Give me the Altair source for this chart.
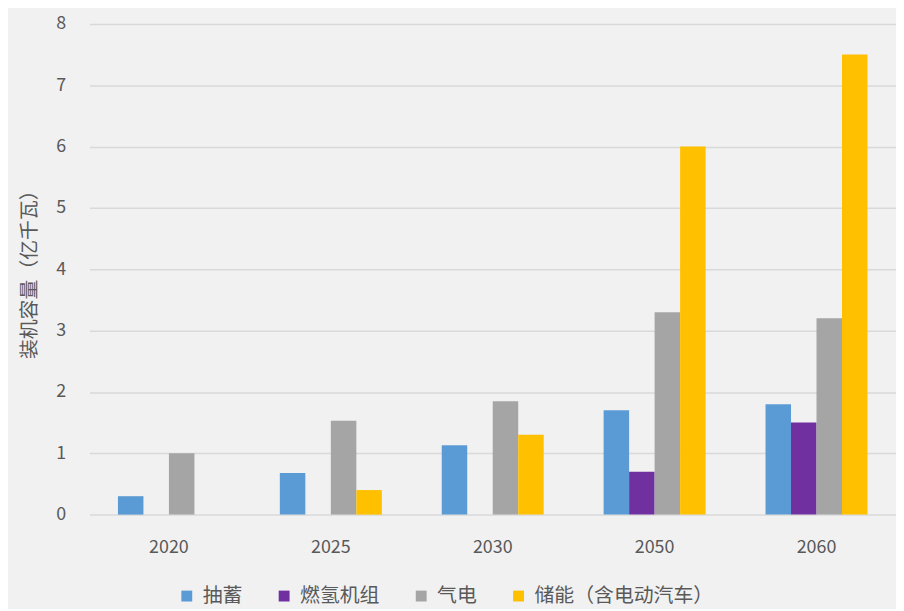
import altair as alt
import pandas as pd

years = ["2020", "2025", "2030", "2050", "2060"]
series = ["抽蓄", "燃氢机组", "气电", "储能（含电动汽车）"]
colors = ["#5B9BD5", "#7030A0", "#A5A5A5", "#FFC000"]
pumped = [0.3, 0.68, 1.13, 1.7, 1.8]
hydrogen = [0.0, 0.0, 0.0, 0.7, 1.5]
gas = [1.0, 1.53, 1.85, 3.3, 3.2]
storage = [0.0, 0.4, 1.3, 6.0, 7.5]

rows = []
for s, vals in zip(series, [pumped, hydrogen, gas, storage]):
    for y, v in zip(years, vals):
        rows.append({"year": y, "series": s, "value": v})
df = pd.DataFrame(rows)

font = "Noto Sans CJK SC"

chart = alt.Chart(df).mark_bar().encode(
    x=alt.X("year:N", sort=years, title=None,
            scale=alt.Scale(paddingInner=0.37, paddingOuter=0.176),
            axis=alt.Axis(labelAngle=0, labelFontSize=18, labelColor="#595959",
                          labelFont=font, ticks=False, domain=False, labelPadding=24)),
    xOffset=alt.XOffset("series:N", sort=series),
    y=alt.Y("value:Q", title="装机容量（亿千瓦）",
            scale=alt.Scale(domain=[0, 8]),
            axis=alt.Axis(values=list(range(0, 9)), labelFontSize=18, labelColor="#595959",
                          labelFont=font, ticks=False, domain=False, labelPadding=24,
                          gridColor="#D9D9D9", gridWidth=1.5,
                          titleFont=font, titleFontSize=20, titleFontWeight="normal",
                          titleColor="#595959", titlePadding=16)),
    color=alt.Color("series:N", sort=series,
                    scale=alt.Scale(domain=series, range=colors),
                    legend=alt.Legend(title=None, orient="none", direction="horizontal",
                                      legendX=88, legendY=566, symbolType="square",
                                      symbolSize=120, symbolStrokeWidth=0,
                                      labelFont=font, labelFontSize=20, labelColor="#595959",
                                      labelLimit=400, columnPadding=32, labelOffset=6)),
).properties(
    width=812, height=494,
    background="#F1F1F1",
    autosize=alt.AutoSizeParams(type="none"),
    padding={"left": 82, "top": 14, "right": 0, "bottom": 93},
).configure_view(stroke=None)

chart.save("out.html", embed_options={"renderer": "svg", "actions": False})
